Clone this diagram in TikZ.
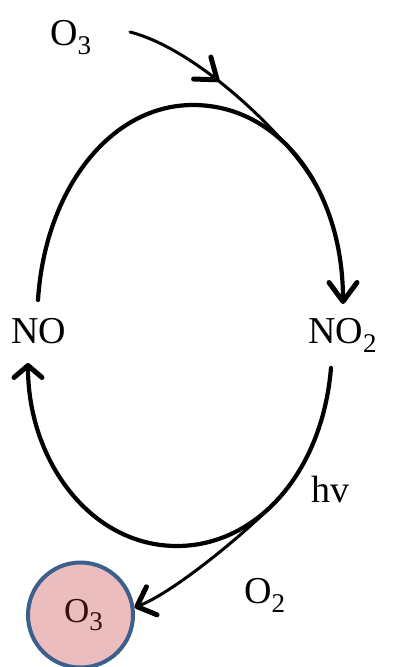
\documentclass[tikz,border=0pt]{standalone}
\usepackage{fontspec}
\setmainfont{Liberation Serif}
\usetikzlibrary{arrows.meta,decorations.markings}
\definecolor{circfill}{HTML}{EBBDBE}
\definecolor{circdraw}{HTML}{3C5F8C}
\definecolor{circtext}{HTML}{3A0E0E}
\newcommand\subs[1]{\raisebox{-0.24em}{\fontsize{27}{27}\selectfont #1}}
\begin{document}
\begin{tikzpicture}[x=1pt,y=-1pt,
  lbl/.style={inner sep=0pt, anchor=base west, font=\fontsize{38}{40}\selectfont},
  cyc/.style={line width=4.2pt, line cap=round},
  feed/.style={line width=3pt, line cap=round},
  tipdown/.style={-{Straight Barb[length=19pt,width=28pt,line width=5pt,round]}},
  tipup/.style={-{Straight Barb[length=12pt,width=28pt,line width=5pt,round]}},
  tipin/.style={-{Straight Barb[length=16pt,width=30pt,line width=5pt,round]}},
  midtip/.style={postaction={decorate},
    decoration={markings, mark=at position 0.42 with {\arrow{Straight Barb[length=19pt,width=28pt,line width=5pt,round]}}}}
]
\useasboundingbox (0,0) rectangle (392,667);

% labels
\node[lbl] (o3top) at (50,45) {O\subs{3}};
\node[lbl] (no) at (11,343) {NO};
\node[lbl] (no2) at (308,343) {NO\subs{2}};
\node[lbl] (hv) at (311,502) {hv};
\node[lbl] (o2) at (244,603) {O\subs{2}};

% circle
\node[circle, minimum size=105pt, inner sep=0pt, draw=circdraw, fill=circfill, line width=4pt] (circ) at (80.5,615) {};
\node[lbl, text=circtext, font=\fontsize{35}{38}\selectfont] (o3c) at (64,622) {O\subs{3}};

% anchor points of the cycle
\coordinate (nt) at (38,300);
\coordinate (nb) at (28,363);
\coordinate (n2t) at (343,304);
\coordinate (n2b) at (331,368);
\coordinate (o3s) at (130,32);
\coordinate (mergeT) at (315,184.5);
\coordinate (mergeB) at (280,497);

% cycle arcs
\draw[cyc, tipdown] (nt) .. controls (45,190) and (110,105) .. (193,105)
   .. controls (280,105) and (343,190) .. (n2t);
\draw[cyc, tipup] (n2b) .. controls (322,475) and (255,546) .. (177,546)
   .. controls (90,546) and (28,460) .. (nb);

% O3 in
\draw[feed, midtip] (o3s) .. controls (200,50) and (291,140.5) .. (mergeT);
% O3 out
\draw[feed, tipin] (mergeB) .. controls (253,527) and (175,592) .. (circ.8);
\end{tikzpicture}
\end{document}
